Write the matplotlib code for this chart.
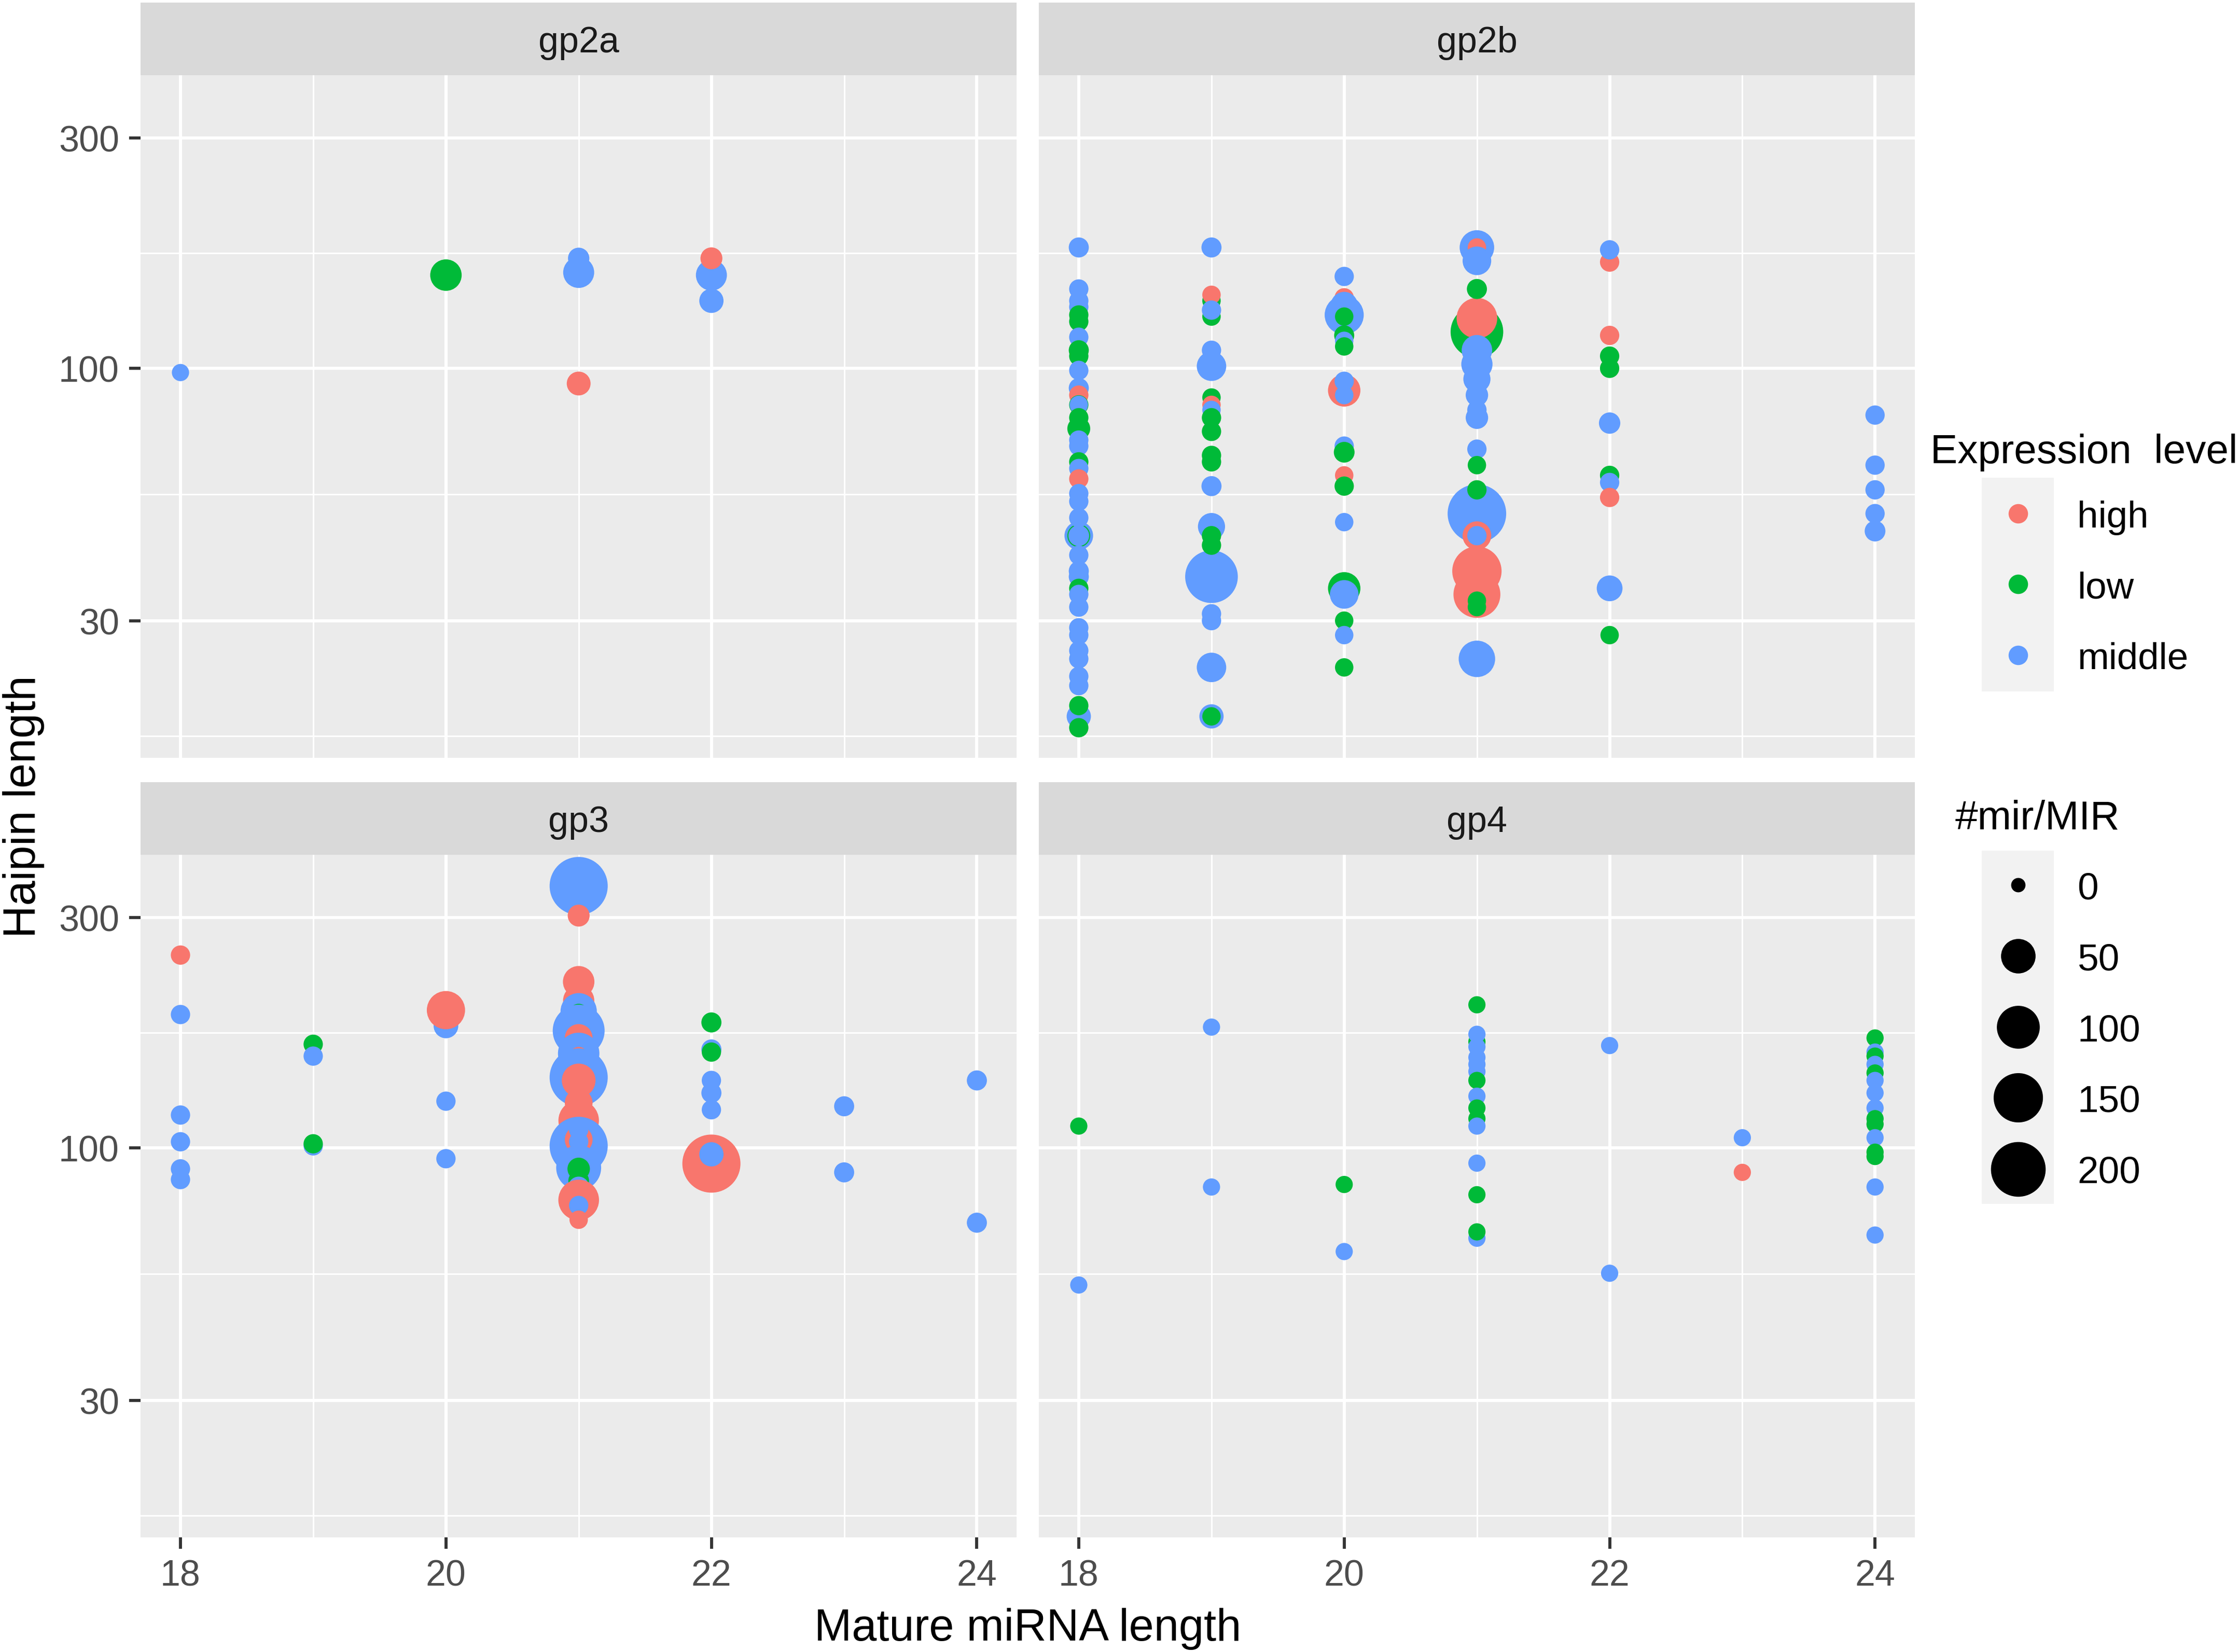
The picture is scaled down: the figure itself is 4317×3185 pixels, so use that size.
import numpy as np
import matplotlib
matplotlib.use("Agg")
import matplotlib.pyplot as plt
from matplotlib.patches import Rectangle
from matplotlib.ticker import NullFormatter

plt.rcParams['font.family'] = ['Liberation Sans', 'DejaVu Sans']

# ------------------------------------------------------------------ data
panel_names = ["gp2a", "gp2b", "gp3", "gp4"]
level_codes = {"H": "high", "L": "low", "M": "middle"}
legend_levels = ["high", "low", "middle"]
level_colors = {"high": "#F8766D", "low": "#00BA38", "middle": "#619CFF"}
size_breaks = [0, 50, 100, 150, 200]
x_breaks = [18, 20, 22, 24]
x_minor = [19, 21, 23]
y_breaks = [30, 100, 300]
y_minor = [17.32, 54.77, 173.2]

# hairpin length per mature length (draw order), #mir/MIR, expression level code
gp2a_y = {18: [98], 20: [156], 21: [158, 169, 93], 22: [156, 138, 169]}
gp2a_n = {18: [1], 20: [36], 21: [34, 6, 11], 22: [34, 12, 7]}
gp2a_lvl = {18: "M", 20: "L", 21: "MMH", 22: "MMH"}

gp2b_y = {
    18: [45, 45, 45, 75, 19, 178, 146, 138, 134, 129, 125, 116, 109, 106, 99,
         91, 88, 84, 84, 79, 71, 69, 64, 62, 59, 55, 53, 49, 41, 38, 37, 35,
         34, 32, 29, 28, 26, 25, 23, 22, 20, 18],
    19: [37, 101, 24, 47, 19, 19, 178, 138, 128, 142, 132, 109, 87, 84, 82, 79,
         74, 66, 64, 57, 45, 43, 31, 30],
    20: [140, 129, 90, 35, 34, 135, 155, 128, 117, 114, 111, 94, 88, 69, 67, 60,
         57, 48, 30, 28, 24],
    21: [50, 119, 38, 34, 127, 25, 178, 178, 102, 109, 167, 45, 95, 88, 79, 146,
         82, 68, 56, 45, 63, 33, 32],
    22: [35, 77, 166, 176, 117, 106, 100, 60, 58, 54, 28],
    24: [46, 80, 63, 56, 50],
}
gp2b_n = {
    18: [25, 9, 5, 9, 12, 4, 3, 3, 3, 3, 3, 3, 4, 3, 3, 4, 3, 3, 2, 3, 3, 3, 3,
         3, 3, 3, 3, 3, 3, 4, 4, 3, 3, 3, 3, 3, 3, 3, 3, 3, 3, 3],
    19: [180, 28, 28, 20, 12, 2, 4, 2, 2, 2, 3, 3, 2, 2, 2, 3, 3, 3, 3, 4, 3, 3,
         3, 3],
    20: [3, 75, 40, 40, 25, 20, 3, 2, 4, 2, 2, 3, 2, 3, 5, 2, 3, 2, 2, 2, 2],
    21: [240, 180, 150, 130, 85, 60, 50, 2, 35, 32, 25, 25, 20, 8, 8, 4, 3, 3, 3,
         3, 2, 2, 2],
    22: [16, 6, 3, 3, 3, 3, 3, 3, 3, 3, 2],
    24: [5, 3, 3, 3, 3],
}
gp2b_lvl = {
    18: "MLMLM" "MMMMLLMLLM" "MHLMLMMLMH" "MMMMMMLMMM" "MMMMMLL",
    19: "MMMMML" "MLLHMMLHMLLLLMLLMM",
    20: "HMHLMMMLLMLMMMLHLMLML",
    21: "MLHHHMMHMMMHMMMLMMLMLLL",
    22: "MMHMHLLLMHL",
    24: "MMMMM",
}

gp3_y = {
    18: [251, 189, 117, 103, 90.5, 86],
    19: [164, 155, 101, 102],
    20: [179, 193, 125, 95],
    21: [349, 303, 221, 202, 192, 190, 175, 169, 157, 155, 140, 138, 124, 114,
         101, 104, 103, 109, 91, 90.5, 85.5, 83, 78, 76, 71],
    22: [92.8, 97, 182, 160, 158, 138, 130, 120],
    23: [122, 89],
    24: [138, 70],
}
gp3_n = {
    18: [3, 3, 3, 3, 3, 3],
    19: [3, 3, 3, 3],
    20: [13, 70, 3, 3],
    21: [235, 7, 36, 35, 59, 3, 173, 22, 90, 2, 235, 46, 22, 84, 235, 22, 3, 3,
         115, 8, 5, 5, 85, 3, 2],
    22: [235, 12, 4, 4, 3, 3, 4, 3],
    23: [4, 4],
    24: [4, 4],
}
gp3_lvl = {
    18: "HMMMMM",
    19: "LMML",
    20: "MHMM",
    21: "MHHHMLMHMHMHHHMHMMMLLMHMH",
    22: "HMLMLMMM",
    23: "MM",
    24: "MM",
}

gp4_y = {
    18: [111, 52],
    19: [178, 83],
    20: [84, 61],
    21: [166, 198, 172, 162, 154, 149, 144, 138, 128, 121, 115, 111, 93, 80,
         65, 67],
    22: [163, 55],
    23: [105, 89],
    24: [169, 158, 155, 149, 143, 138, 130, 121, 115, 112, 105, 98, 96, 83, 66],
}
gp4_n = {
    18: [1, 1],
    19: [1, 1],
    20: [1, 1],
    21: [1, 1, 1, 1, 1, 1, 1, 1, 1, 1, 1, 1, 1, 1, 1, 1],
    22: [1, 1],
    23: [1, 1],
    24: [1, 1, 1, 1, 1, 1, 1, 1, 1, 1, 1, 1, 1, 1, 1],
}
gp4_lvl = {
    18: "LM",
    19: "MM",
    20: "LM",
    21: "LLMMMMMLMLLMMLML",
    22: "MM",
    23: "MH",
    24: "LMLMLMMMLLMLLMM",
}

panel_data = {
    "gp2a": (gp2a_y, gp2a_n, gp2a_lvl),
    "gp2b": (gp2b_y, gp2b_n, gp2b_lvl),
    "gp3": (gp3_y, gp3_n, gp3_lvl),
    "gp4": (gp4_y, gp4_n, gp4_lvl),
}

# ------------------------------------------------------------------ layout
W, H = 1568.0, 1157.3          # layout units (reference preview pixels)
PANELS = {                      # left, right, top, bottom
    "gp2a": (98.5, 712.0, 53.0, 531.0),
    "gp2b": (727.6, 1341.0, 53.0, 531.0),
    "gp3": (98.5, 712.0, 599.0, 1077.0),
    "gp4": (727.6, 1341.0, 599.0, 1077.0),
}
STRIP_H = 51.0
XLIM = (17.7, 24.3)
YLIM = (15.6, 405.0)
EM = 300 / 72 / (4317 / W)      # layout units per point


def diam(n):
    """marker diameter in points for a #mir/MIR count"""
    return 6.65 + 1.32 * np.sqrt(np.asarray(n, dtype=float))


def flatten(yd, nd, ld):
    xs, ys, ns, cs = [], [], [], []
    for x in yd:
        for yv, nv, lv in zip(yd[x], nd[x], ld[x]):
            xs.append(x)
            ys.append(yv)
            ns.append(nv)
            cs.append(level_colors[level_codes[lv]])
    return np.array(xs), np.array(ys), np.array(ns), cs


fig = plt.figure(figsize=(4317 / 300, 3186 / 300), dpi=300)
fig.patch.set_facecolor("white")

for name in panel_names:
    l, r, t, b = PANELS[name]
    ax = fig.add_axes([l / W, 1 - b / H, (r - l) / W, (b - t) / H])
    ax.set_facecolor("#EBEBEB")
    for s in ax.spines.values():
        s.set_visible(False)
    ax.set_yscale("log")
    ax.set_xlim(*XLIM)
    ax.set_ylim(*YLIM)
    ax.set_xticks(x_breaks)
    ax.set_xticks(x_minor, minor=True)
    ax.set_yticks(y_breaks)
    ax.set_yticks(y_minor, minor=True)
    ax.set_yticklabels([str(v) for v in y_breaks])
    ax.set_xticklabels([str(v) for v in x_breaks])
    ax.yaxis.set_minor_formatter(NullFormatter())
    ax.grid(which="major", color="white", linewidth=1.45)
    ax.grid(which="minor", color="white", linewidth=0.72)
    ax.set_axisbelow(True)
    ax.tick_params(which="major", length=5.3, width=1.4, color="#333333",
                   labelsize=16.8, labelcolor="#4D4D4D", pad=4.6)
    ax.tick_params(which="minor", length=0)
    if name in ("gp2b", "gp4"):
        ax.tick_params(axis="y", which="both", length=0, labelleft=False)
    if name in ("gp2a", "gp2b"):
        ax.tick_params(axis="x", which="both", length=0, labelbottom=False)

    xs, ys, ns, cs = flatten(*panel_data[name])
    ax.scatter(xs, ys, s=diam(ns) ** 2, c=cs, linewidths=0, zorder=3)

    sax = fig.add_axes([l / W, 1 - t / H, (r - l) / W, STRIP_H / H])
    sax.set_facecolor("#D9D9D9")
    sax.set_xticks([])
    sax.set_yticks([])
    for s in sax.spines.values():
        s.set_visible(False)

# overlay in layout units for texts & legends
lax = fig.add_axes([0, 0, 1, 1], zorder=10)
lax.set_xlim(0, W)
lax.set_ylim(H, 0)
lax.axis("off")
lax.patch.set_alpha(0)

for name in panel_names:
    l, r, t, b = PANELS[name]
    cy = t - STRIP_H / 2
    lax.text((l + r) / 2, cy + 0.36 * 16.8 * EM, name, fontsize=16.8,
             color="#1A1A1A", ha="center", va="baseline")

# axis titles
lax.text((98.5 + 1341.0) / 2, 1148.8, "Mature miRNA length", fontsize=20.8,
         color="black", ha="center", va="baseline")
lax.text(24.8, 565.0, "Haipin length", fontsize=20.8, color="black",
         rotation=90, rotation_mode="anchor", ha="center", va="baseline")

# colour legend
KX, KW = 1388.0, 50.5
lab_x = 1454.7
lax.text(1352.0, 324.3, "Expression  level", fontsize=18.8, color="black",
         ha="left", va="baseline")
lax.add_patch(Rectangle((KX, 335.0), KW, 149.5, facecolor="#F2F2F2",
                        edgecolor="none"))
col_y = [360.0, 409.5, 459.0]
for lv, cy in zip(legend_levels, col_y):
    lax.scatter([KX + KW / 2], [cy], s=9.0 ** 2, c=level_colors[lv],
                linewidths=0)
    lax.text(lab_x, cy + 0.36 * 17.5 * EM, lv, fontsize=17.5, color="black",
             ha="left", va="baseline")

# size legend
lax.text(1369.3, 580.7, "#mir/MIR", fontsize=18.8, color="black",
         ha="left", va="baseline")
lax.add_patch(Rectangle((KX, 596.0), KW, 247.5, facecolor="#F2F2F2",
                        edgecolor="none"))
size_y = [620.0, 670.0, 719.5, 769.0, 819.0]
for v, cy in zip(size_breaks, size_y):
    lax.scatter([KX + KW / 2], [cy], s=diam(v) ** 2, c="black", linewidths=0)
    lax.text(lab_x, cy + 0.36 * 17.5 * EM, str(v), fontsize=17.5,
             color="black", ha="left", va="baseline")

fig.savefig("out.png", dpi=300, facecolor="white")
